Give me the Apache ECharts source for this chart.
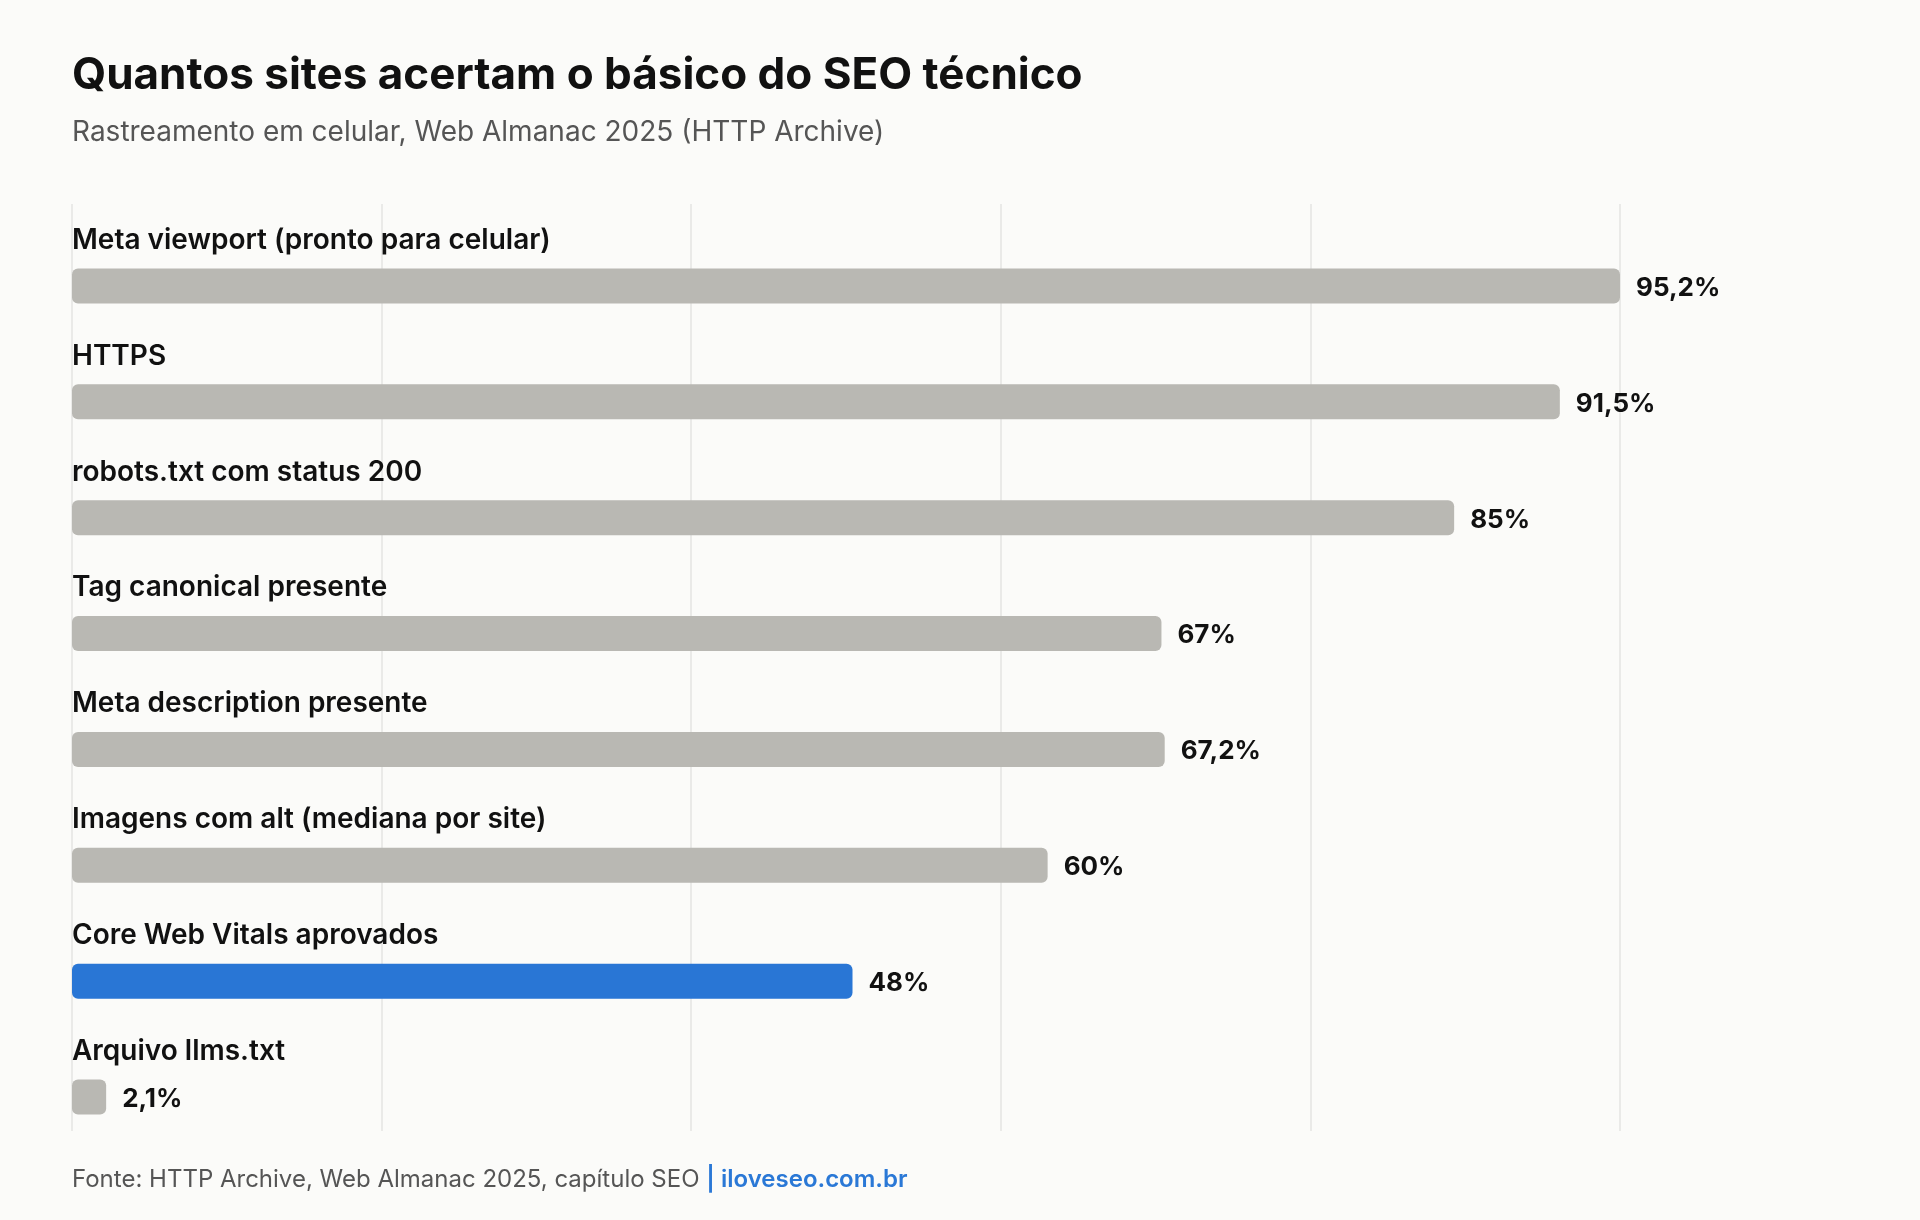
<!DOCTYPE html>
<html>
<head>
<meta charset="utf-8">
<style>
html, body { margin: 0; padding: 0; background: #fbfbf9; }
#chart { width: 1920px; height: 1220px; }
</style>
</head>
<body>
<div id="chart"></div>
<script src="https://cdn.jsdelivr.net/npm/echarts@6/dist/echarts.min.js"></script>
<script type="text/javascript">
var categories = [
  'Meta viewport (pronto para celular)',
  'HTTPS',
  'robots.txt com status 200',
  'Tag canonical presente',
  'Meta description presente',
  'Imagens com alt (mediana por site)',
  'Core Web Vitals aprovados',
  'Arquivo llms.txt'
];
var values = [95.2, 91.5, 85, 67, 67.2, 60, 48, 2.1];
var highlighted = ['Core Web Vitals aprovados'];

var FONT = 'Inter, "Noto Sans", sans-serif';
var maxVal = 95.2;

function fmt(v) {
  return String(v).replace('.', ',') + '%';
}

var chart = echarts.init(document.getElementById('chart'));
chart.setOption({
  backgroundColor: '#fbfbf9',
  animation: false,
  textStyle: { fontFamily: FONT },
  graphic: [
    {
      type: 'text', left: 72, top: 54,
      style: { text: 'Quantos sites acertam o básico do SEO técnico', fontFamily: FONT, fontSize: 44, fontWeight: 700, fill: '#111111' }
    },
    {
      type: 'text', left: 72, top: 119,
      style: { text: 'Rastreamento em celular, Web Almanac 2025 (HTTP Archive)', fontFamily: FONT, fontSize: 28, fontWeight: 400, fill: '#555555' }
    },
    {
      type: 'text', left: 72, top: 1168,
      style: {
        text: '{a|Fonte: HTTP Archive, Web Almanac 2025, capítulo SEO }{b|| iloveseo.com.br}',
        fontFamily: FONT,
        rich: {
          a: { fontFamily: FONT, fontSize: 24, fontWeight: 400, fill: '#555555', color: '#555555' },
          b: { fontFamily: FONT, fontSize: 24, fontWeight: 600, fill: '#2a78d6', color: '#2a78d6' }
        }
      }
    }
  ],
  grid: [
    { left: 72, right: 300, top: 204, bottom: 89 },
    { left: 72, right: 300, top: 228, bottom: 65 }
  ],
  xAxis: [
    {
      gridIndex: 0, type: 'value', min: 0, max: maxVal, interval: maxVal / 5,
      axisLabel: { show: false }, axisLine: { show: false }, axisTick: { show: false },
      splitLine: { show: true, lineStyle: { color: '#e5e5e2', width: 1.5 } }
    },
    {
      gridIndex: 1, type: 'value', min: 0, max: maxVal, show: false,
      splitLine: { show: false }
    }
  ],
  yAxis: [
    { gridIndex: 0, type: 'value', show: false },
    {
      gridIndex: 1, type: 'category', inverse: true, data: categories,
      axisLine: { show: false }, axisTick: { show: false },
      axisLabel: {
        inside: true, margin: 0, align: 'left', verticalAlign: 'bottom',
        lineHeight: 91,
        color: '#111111', fontFamily: FONT, fontSize: 28, fontWeight: 600
      },
      z: 10
    }
  ],
  series: [{
    type: 'bar',
    xAxisIndex: 1,
    yAxisIndex: 1,
    data: values,
    barWidth: 35,
    itemStyle: {
      borderRadius: 6,
      color: function (p) {
        return highlighted.indexOf(categories[p.dataIndex]) >= 0 ? '#2976d5' : '#b9b8b3';
      }
    },
    label: {
      show: true, position: 'right', distance: 16, offset: [0, 2],
      color: '#111111', fontFamily: FONT, fontSize: 26, fontWeight: 700,
      formatter: function (p) { return fmt(p.value); }
    }
  }]
});
</script>
</body>
</html>
